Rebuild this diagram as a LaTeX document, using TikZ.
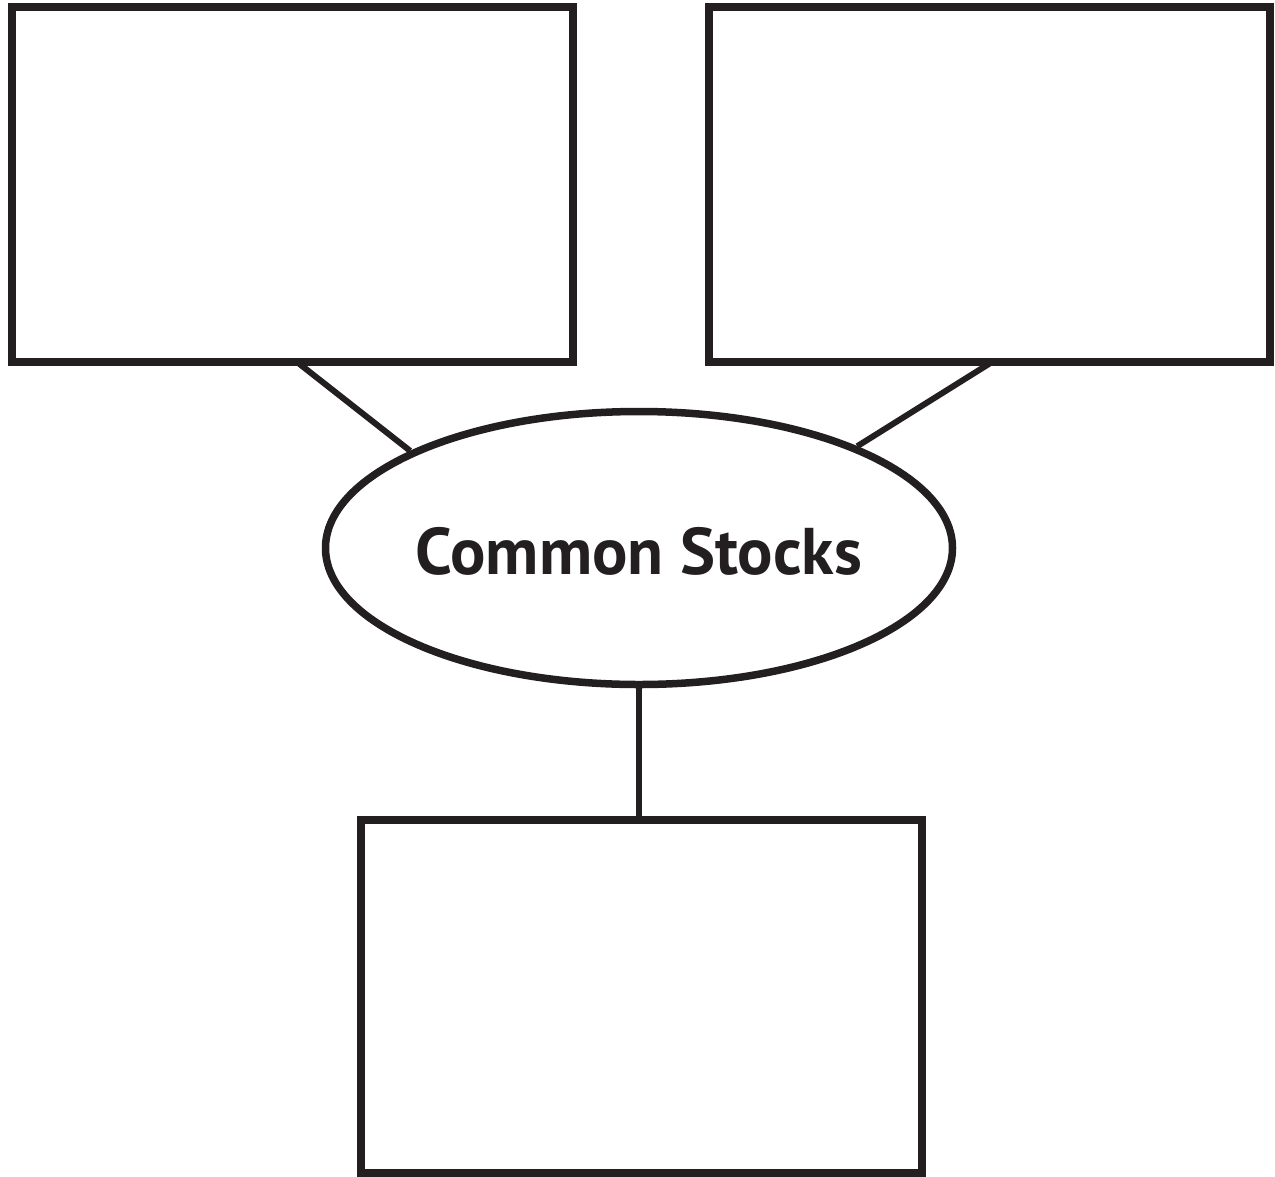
\documentclass[tikz,border=0pt]{standalone}
\usepackage{fontspec}
\setmainfont{PT Sans}
\usetikzlibrary{shapes.geometric}
\definecolor{ink}{HTML}{231F20}
\begin{document}
\begin{tikzpicture}[x=1pt,y=-1pt,
  box/.style={draw=ink,line width=7.5pt},
  link/.style={draw=ink,line width=6pt}]
\useasboundingbox (0,0) rectangle (1275,1176);
\path[box] (12,7) rectangle (573,362);
\coordinate (tl) at (297,362);
\path[box] (709,7) rectangle (1270,362);
\coordinate (tr) at (992,362);
\path[box] (361,820) rectangle (922,1173);
\coordinate (bt) at (639,820);
\node[draw=ink,line width=7.5pt,ellipse,minimum width=627pt,minimum height=273pt,inner sep=0pt] (oval) at (639,548) {};
\node[text=ink,font=\fontsize{66}{70}\selectfont\bfseries] (lbl) at (639,551) {Common Stocks};
\draw[link] (tl) -- (oval.157);
\draw[link] (tr) -- (oval.25);
\draw[link] (oval.south) -- (bt);
\end{tikzpicture}
\end{document}
